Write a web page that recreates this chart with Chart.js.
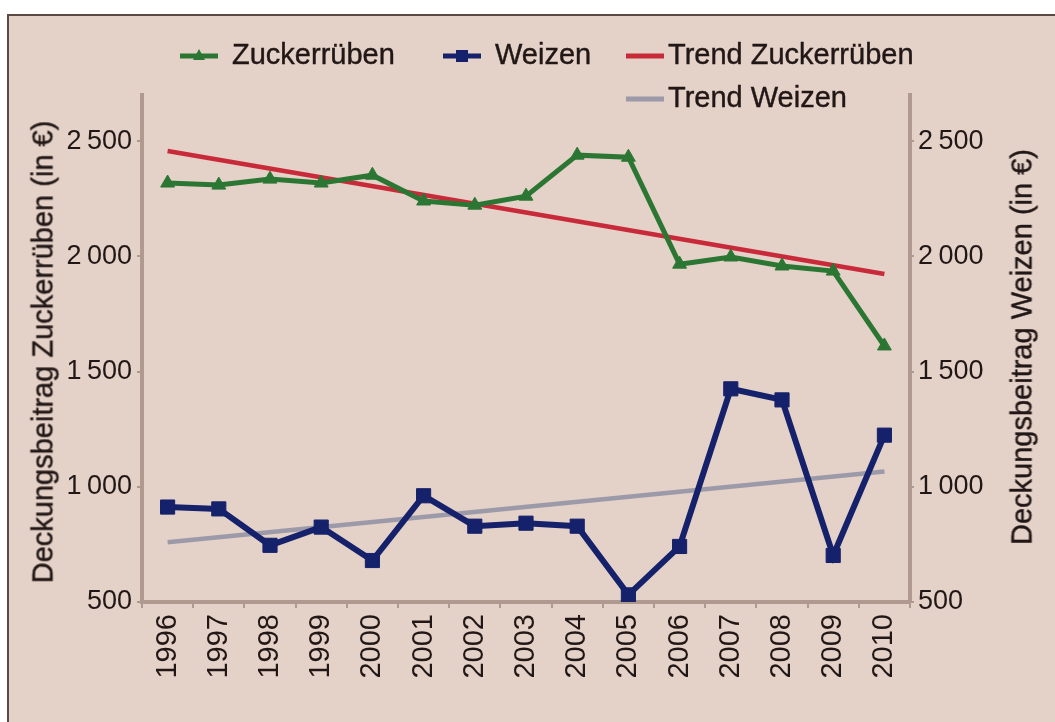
<!DOCTYPE html>
<html><head><meta charset="utf-8">
<script src="https://cdn.jsdelivr.net/npm/chart.js@4"></script>
<style>
html,body{margin:0;padding:0;background:#fff;overflow:hidden;width:1055px;height:722px;}
#frame{position:absolute;left:7px;top:14px;width:1100px;height:800px;background:#e4d1c7;border-left:2px solid #5b4a43;border-top:2px solid #5b4a43;}
#c{position:absolute;left:0;top:0;}
.t{position:absolute;font-family:'Liberation Sans',Arial,sans-serif;color:#211716;white-space:nowrap;font-size:29px;line-height:1;-webkit-text-stroke:0.4px #211716;}
.rot{transform:translate(-50%,-50%) rotate(-90deg);}
.lg{position:absolute;}
</style></head>
<body>
<div id="frame"></div>
<canvas id="c" width="1055" height="722"></canvas>
<div class="t rot" id="titleL" style="left:43px;top:352px;"></div>
<div class="t rot" id="titleR" style="left:1022px;top:347px;"></div>
<div id="legend"></div>
<script>
// ---- data ----
const years = ['1996','1997','1998','1999','2000','2001','2002','2003','2004','2005','2006','2007','2008','2009','2010'];
const zuckerrueben = [2318, 2309, 2335, 2318, 2352, 2240, 2222, 2261, 2439, 2430, 1966, 1997, 1958, 1936, 1611];
const weizen = [912, 904, 746, 825, 680, 961, 829, 842, 829, 531, 741, 1425, 1377, 702, 1224];
const trendZuckerrueben = [2457, null, null, null, null, null, null, null, null, null, null, null, null, null, 1923];
const trendWeizen = [759, null, null, null, null, null, null, null, null, null, null, null, null, null, 1066];
const tickValues = [500, 1000, 1500, 2000, 2500];
const tickLabels = ['500', '1\u2009000', '1\u2009500', '2\u2009000', '2\u2009500'];
const seriesNames = ['Zuckerrüben', 'Weizen', 'Trend Zuckerrüben', 'Trend Weizen'];
const titleLeft = 'Deckungsbeitrag Zuckerrüben (in €)';
const titleRight = 'Deckungsbeitrag Weizen (in €)';

// ---- styles ----
const cGreen = '#2c7634', cBlue = '#15216b', cRed = '#c92a3a', cGray = '#9c9aa9';
const axisColor = '#b09a90', textColor = '#211716';
const FONT = "'Liberation Sans', Arial, sans-serif";

document.getElementById('titleL').textContent = titleLeft;
document.getElementById('titleR').textContent = titleRight;

const tickOpts = {
  font: {family: FONT, size: 27}, color: textColor,
  callback: (v) => { const i = tickValues.indexOf(v); return i >= 0 ? tickLabels[i] : ''; }
};
function setTicks(scale){ scale.ticks = tickValues.map(v => ({value: v})); }

new Chart(document.getElementById('c'), {
  type: 'line',
  data: {
    labels: years,
    datasets: [
      {label: seriesNames[2], data: trendZuckerrueben, yAxisID: 'y', borderColor: cRed, backgroundColor: cRed, borderWidth: 4.5, pointRadius: 0, spanGaps: true, order: 3},
      {label: seriesNames[3], data: trendWeizen, yAxisID: 'y1', borderColor: cGray, backgroundColor: cGray, borderWidth: 4.5, pointRadius: 0, spanGaps: true, order: 4},
      {label: seriesNames[0], data: zuckerrueben, yAxisID: 'y', borderColor: cGreen, backgroundColor: cGreen, borderWidth: 5, pointStyle: 'triangle', pointRadius: 8, pointBorderWidth: 1, order: 2},
      {label: seriesNames[1], data: weizen, yAxisID: 'y1', borderColor: cBlue, backgroundColor: cBlue, borderWidth: 6, pointStyle: 'rect', pointRadius: 10, pointBorderWidth: 1, order: 1}
    ]
  },
  options: {
    responsive: false, animation: false, devicePixelRatio: 1,
    layout: {padding: {top: 95, left: 0, right: 0, bottom: 0}},
    plugins: {legend: {display: false}, tooltip: {enabled: false}},
    elements: {line: {tension: 0}},
    scales: {
      x: {
        type: 'category', offset: true,
        grid: {drawOnChartArea: false, drawTicks: true, tickLength: 6, color: axisColor, lineWidth: 2, offset: true},
        border: {color: axisColor, width: 4},
        ticks: {font: {family: FONT, size: 29}, color: textColor, minRotation: 90, maxRotation: 90, autoSkip: false, padding: 6},
        afterFit: (s) => { s.height = 120; }
      },
      y: {
        position: 'left', min: 500, max: 2700,
        afterBuildTicks: setTicks,
        grid: {drawOnChartArea: false, drawTicks: true, tickLength: 5, color: axisColor, lineWidth: 2},
        border: {color: axisColor, width: 4},
        ticks: Object.assign({padding: 5}, tickOpts),
        afterFit: (s) => { s.width = 142; }
      },
      y1: {
        position: 'right', min: 500, max: 2700,
        afterBuildTicks: setTicks,
        grid: {drawOnChartArea: false, drawTicks: true, tickLength: 4, color: axisColor, lineWidth: 2},
        border: {color: axisColor, width: 4},
        ticks: Object.assign({padding: 4}, tickOpts),
        afterFit: (s) => { s.width = 145; }
      }
    }
  }
});

// ---- legend (HTML) ----
const legendItems = [
  {name: seriesNames[0], color: cGreen, marker: 'tri', mx: 180, tx: 232, y: 56},
  {name: seriesNames[1], color: cBlue, marker: 'sq', mx: 443, tx: 495, y: 56},
  {name: seriesNames[2], color: cRed, marker: null, mx: 626, tx: 668, y: 56},
  {name: seriesNames[3], color: cGray, marker: null, mx: 626, tx: 668, y: 99}
];
const lg = document.getElementById('legend');
legendItems.forEach(it => {
  let m = '';
  if (it.marker === 'tri') m = `<polygon points="13,2 25,2 19,-9" transform="translate(0,9)" fill="${it.color}"/>`;
  if (it.marker === 'sq') m = `<rect x="13" y="1" width="12" height="12" fill="${it.color}"/>`;
  const svg = `<svg class="lg" style="left:${it.mx}px;top:${it.y - 7}px" width="38" height="14"><line x1="0" y1="7" x2="38" y2="7" stroke="${it.color}" stroke-width="5"/>${m}</svg>`;
  const d = document.createElement('div');
  d.innerHTML = svg;
  lg.appendChild(d.firstChild);
  const t = document.createElement('div');
  t.className = 't';
  t.style.left = it.tx + 'px';
  t.style.top = (it.y - 16) + 'px';
  t.textContent = it.name;
  lg.appendChild(t);
});
</script>
</body></html>
